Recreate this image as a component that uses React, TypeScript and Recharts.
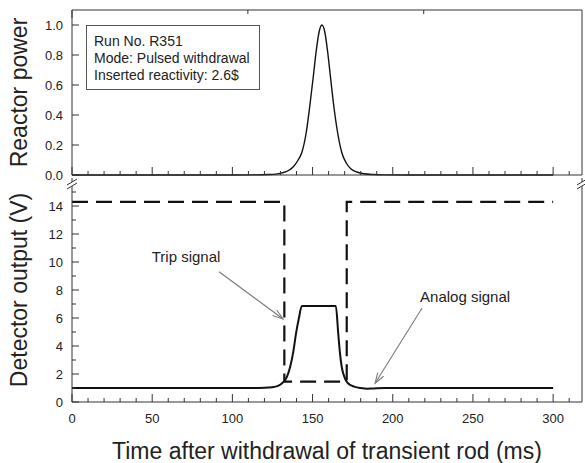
import { LineChart, Line, XAxis, YAxis, ReferenceLine } from "recharts";

const FONT = '"Liberation Sans", Arial, sans-serif';
const INK = "#222";
const AXIS = "#333";
const ARROW = "#7a7a7a";

// shared time axis (ms), labels every 50, minor ticks every 10
const timeTicks = [0, 10, 20, 30, 40, 50, 60, 70, 80, 90, 100, 110, 120, 130, 140, 150, 160, 170, 180, 190, 200, 210, 220, 230, 240, 250, 260, 270, 280, 290, 300, 310];
const timeDomain = [0, 318];

// upper panel: normalised reactor power
const powerTicks = [0, 0.2, 0.4, 0.6, 0.8, 1.0];
const powerTime = [0, 100, 115, 122, 127, 131, 135, 138, 141, 143.3, 146, 148.5, 150.5, 152.2, 154, 155.8, 157.5, 159.3, 161, 163, 165.5, 168.2, 171, 174, 177.6, 182, 188, 195, 210, 300];
const powerValues = [0, 0, 0.001, 0.003, 0.006, 0.014, 0.03, 0.055, 0.1, 0.15, 0.28, 0.48, 0.66, 0.82, 0.95, 1.0, 0.96, 0.83, 0.67, 0.48, 0.29, 0.15, 0.08, 0.04, 0.02, 0.008, 0.003, 0.001, 0, 0];

// lower panel: detector output (V)
const voltTicks = [0, 1, 2, 3, 4, 5, 6, 7, 8, 9, 10, 11, 12, 13, 14, 15];
const tripTime = [0, 132.4, 132.4, 171.3, 171.3, 300];
const tripVolts = [14.3, 14.3, 1.45, 1.45, 14.3, 14.3];
const analogTime = [0, 40, 80, 110, 120, 125, 128, 130, 132, 134, 136, 138, 139.7, 141.5, 143.3, 164.5, 166, 167, 168.2, 169.5, 171, 173, 176, 180, 184, 188, 195, 220, 260, 300];
const analogVolts = [1.0, 1.0, 1.0, 1.0, 1.02, 1.06, 1.13, 1.25, 1.45, 1.8, 2.5, 3.6, 4.9, 6.0, 6.86, 6.86, 4.9, 3.6, 2.5, 1.9, 1.5, 1.25, 1.1, 1.0, 0.95, 0.97, 1.0, 1.0, 1.0, 1.0];

const infoLines = ["Run No. R351", "Mode: Pulsed withdrawal", "Inserted reactivity: 2.6$"];

const powerData = powerTime.map((t, i) => ({ t, power: powerValues[i] }));
const tripData = tripTime.map((t, i) => ({ t, v: tripVolts[i] }));
const analogData = analogTime.map((t, i) => ({ t, v: analogVolts[i] }));

const textStyle = { fontFamily: FONT, fill: INK };

// ticks drawn inside the frame
const XTick = (p: any, side: "top" | "bottom", label: boolean) => {
  const major = p.payload.value % 50 === 0;
  const len = major ? 8 : 4;
  const dir = side === "bottom" ? -1 : 1;
  return (
    <g>
      <line x1={p.x} x2={p.x} y1={p.y} y2={p.y + dir * len} stroke={AXIS} />
      {label && major && (
        <text x={p.x} y={p.y + 21} textAnchor="middle" fontSize={13} style={textStyle}>
          {p.payload.value}
        </text>
      )}
    </g>
  );
};

const YTick = (p: any, side: "left" | "right", isMajor: (v: number) => boolean, fmt?: (v: number) => string) => {
  const v = p.payload.value;
  const major = isMajor(v);
  const len = major ? 7 : 4;
  const dir = side === "left" ? 1 : -1;
  return (
    <g>
      <line x1={p.x} x2={p.x + dir * len} y1={p.y} y2={p.y} stroke={AXIS} />
      {fmt && major && (
        <text x={p.x - 9} y={p.y} dy="0.36em" textAnchor="end" fontSize={13} style={textStyle}>
          {fmt(v)}
        </text>
      )}
    </g>
  );
};

const BreakMark = ({ x, y }: { x: number; y: number }) => (
  <g>
    <polygon points={`${x - 5},${y + 7} ${x + 5},${y + 1} ${x + 5},${y + 5} ${x - 5},${y + 11}`} fill="#fff" />
    <line x1={x - 5} y1={y + 7} x2={x + 5} y2={y + 1} stroke={AXIS} />
    <line x1={x - 5} y1={y + 11} x2={x + 5} y2={y + 5} stroke={AXIS} />
  </g>
);

// left axis viewBox: x is one pixel left of the axis line (axis width = 1)
const yTitle = (text: string, breakMark: boolean) => (p: any) => {
  const vb = p.viewBox;
  const axisX = vb.x + vb.width;
  const cx = axisX - 45;
  const cy = vb.y + vb.height / 2;
  return (
    <g>
      <text x={cx} y={cy} textAnchor="middle" fontSize={23} transform={`rotate(-90, ${cx}, ${cy})`} style={textStyle}>
        {text}
      </text>
      {breakMark && <BreakMark x={axisX} y={vb.y} />}
    </g>
  );
};

const xTitle = (p: any) => {
  const vb = p.viewBox;
  return (
    <text x={vb.x + vb.width / 2} y={vb.y + 57} textAnchor="middle" fontSize={23} style={textStyle}>
      Time after withdrawal of transient rod (ms)
    </text>
  );
};

const annotations = [
  { text: "Trip signal", from: { x: 91.7, y: 9.3 }, to: { x: 131.6, y: 5.93 }, dx: -33, dy: -15 },
  { text: "Analog signal", from: { x: 218.3, y: 6.71 }, to: { x: 189, y: 1.34 }, dx: 43, dy: -11 },
];

const arrowShape = (text: string, dx: number, dy: number) => (p: any) => {
  const { x1, y1, x2, y2 } = p;
  const a = Math.atan2(y2 - y1, x2 - x1);
  const h = 11;
  const s = 0.32;
  const pts = `${x2 - h * Math.cos(a - s)},${y2 - h * Math.sin(a - s)} ${x2},${y2} ${x2 - h * Math.cos(a + s)},${y2 - h * Math.sin(a + s)}`;
  return (
    <g>
      <line x1={x1} y1={y1} x2={x2} y2={y2} stroke={ARROW} strokeWidth={1.1} />
      <polyline points={pts} fill="none" stroke={ARROW} strokeWidth={1.1} />
      <text x={x1 + dx} y={y1 + dy} dy="0.35em" textAnchor="middle" fontSize={15} style={textStyle}>
        {text}
      </text>
    </g>
  );
};

export default function App() {
  return (
    <div style={{ position: "absolute", left: 0, top: 0, width: 585, height: 463, background: "#fff", fontFamily: FONT }}>
      <div style={{ position: "absolute", left: 0, top: 0 }}>
        <LineChart width={585} height={188} data={powerData} margin={{ top: 9, right: 2, bottom: 12, left: 71 }}>
          <XAxis dataKey="t" type="number" domain={timeDomain} ticks={timeTicks} interval={0} height={1} tickSize={0} tickMargin={0}
            stroke={AXIS} tick={(p: any) => XTick(p, "bottom", false)} />
          <XAxis xAxisId="top" orientation="top" type="number" domain={timeDomain} ticks={timeTicks} interval={0} height={1} tickSize={0} tickMargin={0}
            stroke={AXIS} tick={(p: any) => XTick(p, "top", false)} />
          <YAxis type="number" domain={[0, 1.1]} ticks={powerTicks} interval={0} width={1} tickSize={0} tickMargin={0}
            stroke={AXIS} tick={(p: any) => YTick(p, "left", () => true, (v) => v.toFixed(1))}
            label={yTitle("Reactor power", false)} />
          <YAxis yAxisId="right" orientation="right" type="number" domain={[0, 1.1]} ticks={powerTicks} interval={0} width={1} tickSize={0} tickMargin={0}
            stroke={AXIS} tick={(p: any) => YTick(p, "right", () => true)} />
          <Line dataKey="power" type="monotone" stroke="#111" strokeWidth={1.4} dot={false} isAnimationActive={false} />
        </LineChart>
      </div>
      <div style={{ position: "absolute", left: 0, top: 175 }}>
        <LineChart width={585} height={288} margin={{ top: 3, right: 2, bottom: 60, left: 71 }}>
          <XAxis dataKey="t" type="number" domain={timeDomain} ticks={timeTicks} interval={0} height={1} tickSize={0} tickMargin={0}
            stroke={AXIS} tick={(p: any) => XTick(p, "bottom", true)} label={xTitle} />
          <YAxis type="number" domain={[0, 16]} ticks={voltTicks} interval={0} width={1} tickSize={0} tickMargin={0}
            stroke={AXIS} tick={(p: any) => YTick(p, "left", (v) => v % 2 === 0, (v) => String(v))}
            label={yTitle("Detector output (V)", true)} />
          <YAxis yAxisId="right" orientation="right" type="number" domain={[0, 16]} ticks={voltTicks} interval={0} width={1} tickSize={0} tickMargin={0}
            stroke={AXIS} tick={(p: any) => YTick(p, "right", (v) => v % 2 === 0)}
            label={(p: any) => <BreakMark x={p.viewBox.x} y={p.viewBox.y} />} />
          <Line data={tripData} dataKey="v" type="linear" stroke="#111" strokeWidth={2.2} strokeDasharray="16 8" dot={false} isAnimationActive={false} />
          <Line data={analogData} dataKey="v" type="monotone" stroke="#111" strokeWidth={2} dot={false} isAnimationActive={false} />
          {annotations.map((a) => (
            <ReferenceLine key={a.text} segment={[a.from, a.to]} ifOverflow="visible" shape={arrowShape(a.text, a.dx, a.dy)} />
          ))}
        </LineChart>
      </div>
      <div style={{ position: "absolute", left: 86, top: 25, width: 174, height: 65, border: "1px solid #555", padding: "7px 0 0 7px", boxSizing: "border-box", fontSize: 14, lineHeight: "17px", color: INK }}>
        {infoLines.map((l) => (
          <div key={l}>{l}</div>
        ))}
      </div>
    </div>
  );
}
